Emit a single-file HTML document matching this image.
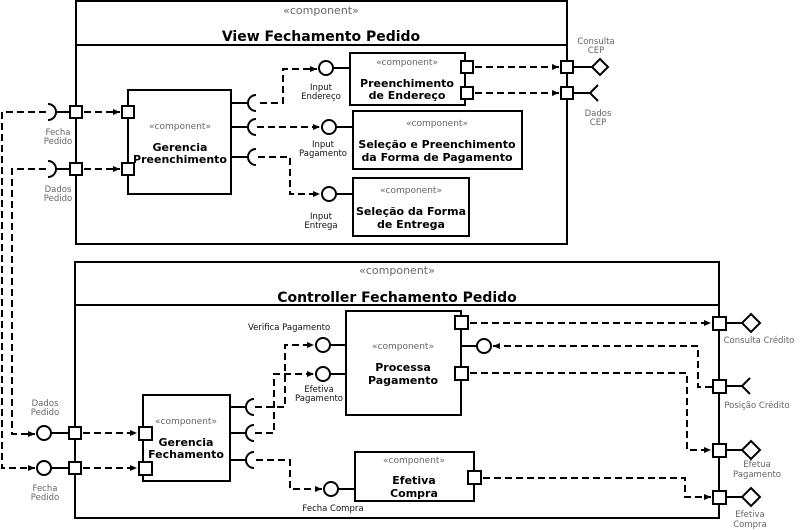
<!DOCTYPE html>
<html><head><meta charset="utf-8"><style>
html,body{margin:0;padding:0;background:#fff}
svg{display:block}
text{font-family:"DejaVu Sans","Liberation Sans",sans-serif}
.t{font-weight:bold;font-size:11px;fill:#000}
.T{font-weight:bold;font-size:14px;fill:#000}
.s{font-size:9px;fill:#666}
.S{font-size:11px;fill:#666}
.l{font-size:8.5px;fill:#666}
.k{font-size:8.5px;fill:#111}
.b{fill:#fff;stroke:#000;stroke-width:2}
.ln{stroke:#000;stroke-width:2;fill:none}
.d{stroke:#000;stroke-width:2;fill:none;stroke-dasharray:7,4}
</style></head><body>
<svg width="800" height="530" viewBox="0 0 800 530" xmlns="http://www.w3.org/2000/svg">
<defs><marker id="a" markerWidth="8" markerHeight="8" refX="7" refY="4" orient="auto" markerUnits="userSpaceOnUse"><path d="M0,1 L7,4 L0,7 z" fill="#000"/></marker></defs>

<rect x="76" y="1" width="491" height="243" class="b"/>
<line x1="76" y1="45" x2="567" y2="45" class="ln"/>
<text x="321" y="14" text-anchor="middle" class="S">«component»</text>
<text x="321" y="41" text-anchor="middle" class="T">View Fechamento Pedido</text>

<rect x="128" y="90" width="103" height="104" class="b"/>
<text x="180" y="129" text-anchor="middle" class="s">«component»</text>
<text x="180" y="151" text-anchor="middle" class="t">Gerencia</text>
<text x="180" y="163" text-anchor="middle" class="t">Preenchimento</text>
<rect x="122" y="106" width="12" height="12" class="b"/>
<rect x="122" y="163" width="12" height="12" class="b"/>
<rect x="70" y="106" width="12" height="12" class="b"/>
<rect x="70" y="163" width="12" height="12" class="b"/>
<line x1="56" y1="112" x2="70" y2="112" class="ln"/>
<line x1="56" y1="169" x2="70" y2="169" class="ln"/>
<path d="M48,104 A8,8 0 0 1 48,120" class="ln"/>
<path d="M48,161 A8,8 0 0 1 48,177" class="ln"/>
<text x="58" y="135" text-anchor="middle" class="l">Fecha</text>
<text x="58" y="144" text-anchor="middle" class="l">Pedido</text>
<text x="58" y="192" text-anchor="middle" class="l">Dados</text>
<text x="58" y="201" text-anchor="middle" class="l">Pedido</text>
<line x1="84" y1="112" x2="120" y2="112" class="d" marker-end="url(#a)"/>
<line x1="84" y1="169" x2="120" y2="169" class="d" marker-end="url(#a)"/>

<line x1="231" y1="103" x2="248" y2="103" class="ln"/>
<line x1="231" y1="127" x2="248" y2="127" class="ln"/>
<line x1="231" y1="157" x2="248" y2="157" class="ln"/>
<path d="M256,95 A8,8 0 0 0 256,111" class="ln"/>
<path d="M256,119 A8,8 0 0 0 256,135" class="ln"/>
<path d="M256,149 A8,8 0 0 0 256,165" class="ln"/>
<polyline points="260,103 283,103 283,69 317,69" class="d" marker-end="url(#a)"/>
<line x1="257" y1="127" x2="320" y2="127" class="d" marker-end="url(#a)"/>
<polyline points="258,157 290,157 290,194 320,194" class="d" marker-end="url(#a)"/>

<line x1="333" y1="68" x2="350" y2="68" class="ln"/>
<circle cx="326" cy="68" r="7" class="b"/>
<text x="321" y="90" text-anchor="middle" class="k">Input</text>
<text x="321" y="99" text-anchor="middle" class="k">Endereço</text>
<line x1="336" y1="127" x2="353" y2="127" class="ln"/>
<circle cx="329" cy="127" r="7" class="b"/>
<text x="323" y="147" text-anchor="middle" class="k">Input</text>
<text x="323" y="156" text-anchor="middle" class="k">Pagamento</text>
<line x1="336" y1="194" x2="353" y2="194" class="ln"/>
<circle cx="329" cy="194" r="7" class="b"/>
<text x="321" y="219" text-anchor="middle" class="k">Input</text>
<text x="321" y="228" text-anchor="middle" class="k">Entrega</text>

<rect x="350" y="53" width="115" height="52" class="b"/>
<text x="407" y="65" text-anchor="middle" class="s">«component»</text>
<text x="407" y="87" text-anchor="middle" class="t">Preenchimento</text>
<text x="407" y="99" text-anchor="middle" class="t">de Endereço</text>
<rect x="461" y="61" width="12" height="12" class="b"/>
<rect x="461" y="87" width="12" height="12" class="b"/>
<line x1="475" y1="67" x2="559" y2="67" class="d" marker-end="url(#a)"/>
<line x1="475" y1="93" x2="559" y2="93" class="d" marker-end="url(#a)"/>
<rect x="561" y="61" width="12" height="12" class="b"/>
<rect x="561" y="87" width="12" height="12" class="b"/>
<line x1="573" y1="67" x2="592" y2="67" class="ln"/>
<path d="M600,59 L608,67 L600,75 L592,67 z" class="b"/>
<line x1="573" y1="93" x2="590" y2="93" class="ln"/>
<polyline points="598,85 590,93 598,101" class="ln"/>
<text x="596" y="44" text-anchor="middle" class="l">Consulta</text>
<text x="596" y="53" text-anchor="middle" class="l">CEP</text>
<text x="598" y="116" text-anchor="middle" class="l">Dados</text>
<text x="598" y="125" text-anchor="middle" class="l">CEP</text>

<rect x="353" y="111" width="169" height="58" class="b"/>
<text x="437" y="126" text-anchor="middle" class="s">«component»</text>
<text x="437" y="148" text-anchor="middle" class="t">Seleção e Preenchimento</text>
<text x="437" y="161" text-anchor="middle" class="t">da Forma de Pagamento</text>
<rect x="353" y="178" width="116" height="58" class="b"/>
<text x="411" y="193" text-anchor="middle" class="s">«component»</text>
<text x="411" y="215" text-anchor="middle" class="t">Seleção da Forma</text>
<text x="411" y="228" text-anchor="middle" class="t">de Entrega</text>

<polyline points="46,112 2,112 2,468 35,468" class="d" marker-end="url(#a)"/>
<polyline points="46,169 12,169 12,434 35,434" class="d" marker-end="url(#a)"/>

<rect x="75" y="262" width="644" height="256" class="b"/>
<line x1="75" y1="305" x2="719" y2="305" class="ln"/>
<text x="397" y="274" text-anchor="middle" class="S">«component»</text>
<text x="397" y="302" text-anchor="middle" class="T">Controller Fechamento Pedido</text>

<circle cx="44" cy="433" r="7" class="b"/>
<circle cx="44" cy="468" r="7" class="b"/>
<line x1="51" y1="433" x2="69" y2="433" class="ln"/>
<line x1="51" y1="468" x2="69" y2="468" class="ln"/>
<rect x="69" y="427" width="12" height="12" class="b"/>
<rect x="69" y="462" width="12" height="12" class="b"/>
<text x="45" y="406" text-anchor="middle" class="l">Dados</text>
<text x="45" y="415" text-anchor="middle" class="l">Pedido</text>
<text x="45" y="491" text-anchor="middle" class="l">Fecha</text>
<text x="45" y="500" text-anchor="middle" class="l">Pedido</text>
<line x1="83" y1="433" x2="137" y2="433" class="d" marker-end="url(#a)"/>
<line x1="83" y1="468" x2="137" y2="468" class="d" marker-end="url(#a)"/>

<rect x="143" y="395" width="87" height="86" class="b"/>
<text x="186" y="424" text-anchor="middle" class="s">«component»</text>
<text x="186" y="446" text-anchor="middle" class="t">Gerencia</text>
<text x="186" y="458" text-anchor="middle" class="t">Fechamento</text>
<rect x="139" y="427" width="13" height="13" class="b"/>
<rect x="139" y="462" width="13" height="13" class="b"/>
<line x1="230" y1="407" x2="246" y2="407" class="ln"/>
<line x1="230" y1="433" x2="246" y2="433" class="ln"/>
<line x1="230" y1="460" x2="246" y2="460" class="ln"/>
<path d="M254,399 A8,8 0 0 0 254,415" class="ln"/>
<path d="M254,425 A8,8 0 0 0 254,441" class="ln"/>
<path d="M254,452 A8,8 0 0 0 254,468" class="ln"/>
<polyline points="255,407 285,407 285,345 314,345" class="d" marker-end="url(#a)"/>
<polyline points="255,433 274,433 274,374 314,374" class="d" marker-end="url(#a)"/>
<polyline points="256,460 290,460 290,489 322,489" class="d" marker-end="url(#a)"/>

<text x="248" y="330" class="k">Verifica Pagamento</text>
<circle cx="323" cy="345" r="7" class="b"/>
<line x1="330" y1="345" x2="346" y2="345" class="ln"/>
<circle cx="323" cy="374" r="7" class="b"/>
<line x1="330" y1="374" x2="346" y2="374" class="ln"/>
<text x="319" y="392" text-anchor="middle" class="k">Efetiva</text>
<text x="319" y="401" text-anchor="middle" class="k">Pagamento</text>
<rect x="346" y="311" width="115" height="104" class="b"/>
<text x="403" y="349" text-anchor="middle" class="s">«component»</text>
<text x="403" y="371" text-anchor="middle" class="t">Processa</text>
<text x="403" y="384" text-anchor="middle" class="t">Pagamento</text>
<rect x="455" y="316" width="13" height="13" class="b"/>
<rect x="455" y="367" width="13" height="13" class="b"/>
<line x1="461" y1="346" x2="477" y2="346" class="ln"/>
<circle cx="484" cy="346" r="7" class="b"/>

<circle cx="331" cy="489" r="7" class="b"/>
<line x1="338" y1="489" x2="355" y2="489" class="ln"/>
<text x="333" y="511" text-anchor="middle" class="k">Fecha Compra</text>
<rect x="355" y="452" width="119" height="49" class="b"/>
<text x="414" y="463" text-anchor="middle" class="s">«component»</text>
<text x="414" y="484" text-anchor="middle" class="t">Efetiva</text>
<text x="414" y="497" text-anchor="middle" class="t">Compra</text>
<rect x="468" y="471" width="13" height="13" class="b"/>

<rect x="713" y="317" width="13" height="13" class="b"/>
<rect x="713" y="380" width="13" height="13" class="b"/>
<rect x="713" y="444" width="13" height="13" class="b"/>
<rect x="713" y="491" width="13" height="13" class="b"/>
<line x1="726" y1="323" x2="742" y2="323" class="ln"/>
<path d="M751,314 L760,323 L751,332 L742,323 z" class="b"/>
<line x1="726" y1="386" x2="742" y2="386" class="ln"/>
<polyline points="750,378 742,386 750,394" class="ln"/>
<line x1="726" y1="450" x2="742" y2="450" class="ln"/>
<path d="M751,441 L760,450 L751,459 L742,450 z" class="b"/>
<line x1="726" y1="497" x2="742" y2="497" class="ln"/>
<path d="M751,488 L760,497 L751,506 L742,497 z" class="b"/>
<text x="759" y="343" text-anchor="middle" class="l">Consulta Crédito</text>
<text x="757" y="408" text-anchor="middle" class="l">Posição Crédito</text>
<text x="757" y="467" text-anchor="middle" class="l">Efetua</text>
<text x="757" y="477" text-anchor="middle" class="l">Pagamento</text>
<text x="750" y="517" text-anchor="middle" class="l">Efetiva</text>
<text x="750" y="527" text-anchor="middle" class="l">Compra</text>

<line x1="470" y1="323" x2="711" y2="323" class="d" marker-end="url(#a)"/>
<polyline points="712,387 698,387 698,346 493,346" class="d" marker-end="url(#a)"/>
<polyline points="470,373 687,373 687,450 711,450" class="d" marker-end="url(#a)"/>
<polyline points="483,478 685,478 685,497 711,497" class="d" marker-end="url(#a)"/>
</svg>
</body></html>
